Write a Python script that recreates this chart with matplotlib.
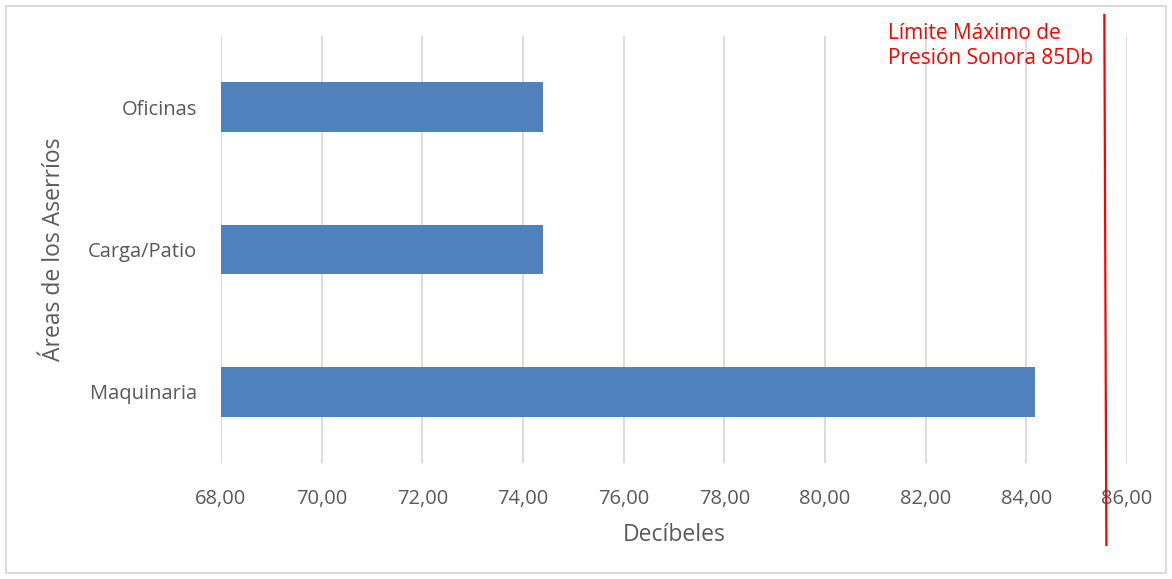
import numpy as np
import matplotlib.pyplot as plt
from matplotlib.patches import Rectangle
import matplotlib.transforms as mtransforms

areas = ['Maquinaria', 'Carga/Patio', 'Oficinas']
decibeles = [84.17, 74.40, 74.40]
limite = 85.55
ticks = np.arange(68, 87, 2)
tick_labels = ['%.2f' % t for t in ticks]
tick_labels = [t.replace('.', ',') for t in tick_labels]

plt.rcParams['font.family'] = ['Open Sans', 'DejaVu Sans']

fig = plt.figure(figsize=(11.72, 5.79), dpi=100)
W, H = 1172, 579
ax = fig.add_axes([221 / W, 1 - 463 / H, (1127 - 221) / W, (463 - 36) / H])

y = np.arange(len(areas))
ax.barh(y, np.array(decibeles) - 68, left=68, height=0.35, color='#4f81bd', zorder=2)

ax.set_xlim(68, 86)
ax.set_ylim(-0.5, 2.5)
ax.set_xticks(ticks)
ax.set_xticklabels(tick_labels)
ax.set_yticks(y)
ax.set_yticklabels(areas)
ax.tick_params(length=0, labelsize=14.5, colors='#595959')
ax.tick_params(axis='x', pad=19)
ax.tick_params(axis='y', pad=17)
ax.grid(axis='x', color='#d9d9d9', linewidth=1.3, zorder=0)
for s in ax.spines.values():
    s.set_visible(False)

ax.set_xlabel('Decíbeles', fontsize=16.5, color='#595959', labelpad=10)
ax.set_ylabel('Áreas de los Aserríos', fontsize=16.5, color='#595959', labelpad=16)

# red limit line, extending beyond the plot area
trans = mtransforms.blended_transform_factory(ax.transData, fig.transFigure)
ax.plot([limite, limite + 0.04], [1 - 15 / H, 1 - 545 / H], color='red',
        linewidth=1.6, transform=trans, clip_on=False, zorder=5)
fig.text(888 / W, 1 - 46 / H, 'Límite Máximo de\nPresión Sonora 85Db', color='red',
         fontsize=15, va='center', ha='left', linespacing=1.3)

fig.patches.append(Rectangle((6 / W, 6 / H), 1 - 12 / W, 1 - 12 / H, transform=fig.transFigure,
                             fill=False, edgecolor='#d9d9d9', linewidth=1.3))

fig.savefig('out.png', dpi=100)
